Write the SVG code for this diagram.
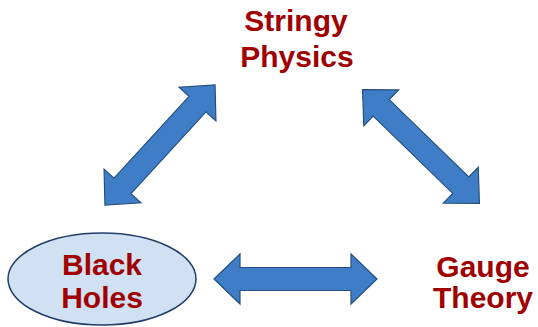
<svg xmlns="http://www.w3.org/2000/svg" width="538" height="327" viewBox="0 0 538 327">
<defs>
<style>
.lbl{font-family:"Liberation Sans",Arial,sans-serif;font-weight:bold;font-size:30px;fill:#a00000;text-anchor:middle}
.arr{fill:#3f7ec6;stroke:#24507f;stroke-width:1.2;stroke-linejoin:miter}
</style>
<path id="dblarrow" d="M -81.5 0 L -55.5 -25 L -55.5 -11.5 L 55.5 -11.5 L 55.5 -25 L 81.5 0 L 55.5 25 L 55.5 11.5 L -55.5 11.5 L -55.5 25 Z"/>
</defs>
<rect width="538" height="327" fill="#ffffff"/>
<g id="connectors">
<use href="#dblarrow" class="arr" transform="translate(160,145) rotate(-47.5)"/>
<use href="#dblarrow" class="arr" transform="translate(421,146.5) rotate(44.2)"/>
<use href="#dblarrow" class="arr" transform="translate(295.5,279)"/>
</g>
<g id="stringy">
<text class="lbl" x="296" y="31">Stringy</text>
<text class="lbl" x="297" y="67">Physics</text>
</g>
<g id="blackholes">
<ellipse cx="102" cy="279" rx="94" ry="46" fill="#cfe1f3" stroke="#1f3d66" stroke-width="1.5"/>
<text class="lbl" x="102" y="275">Black</text>
<text class="lbl" x="102" y="308">Holes</text>
</g>
<g id="gauge">
<text class="lbl" x="483" y="277">Gauge</text>
<text class="lbl" x="483" y="308">Theory</text>
</g>
</svg>
